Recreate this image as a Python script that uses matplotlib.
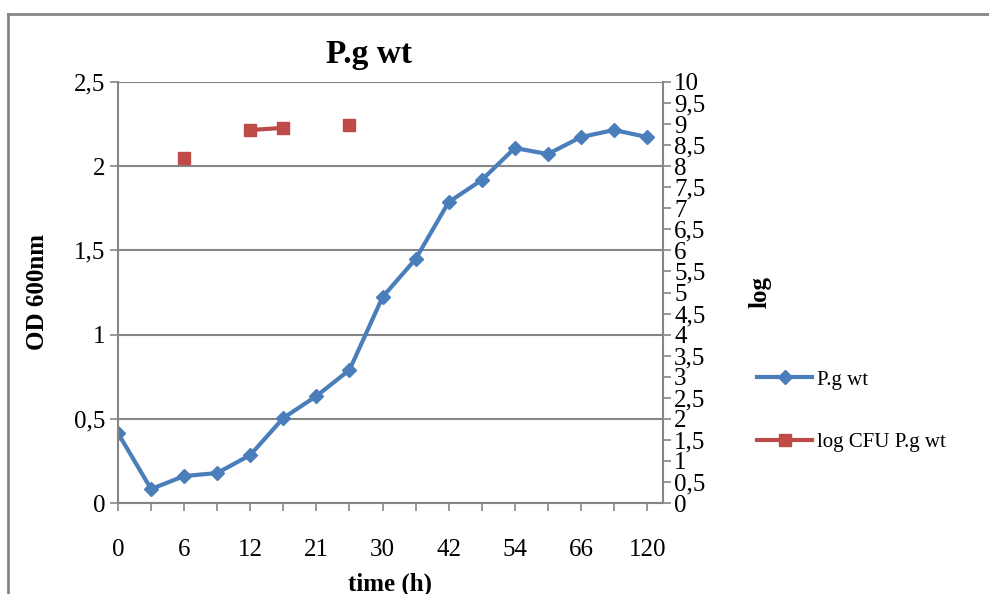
import numpy as np
import matplotlib.pyplot as plt
from matplotlib.lines import Line2D
from matplotlib.ticker import FuncFormatter, MultipleLocator

plt.rcParams['font.family'] = ['Liberation Serif', 'DejaVu Serif']

# sampling times (h) and measurements
time_h = [0, 3, 6, 9, 12, 16, 21, 26, 30, 36, 42, 48, 54, 60, 66, 96, 120]
od600 = [0.415, 0.083, 0.160, 0.178, 0.285, 0.505, 0.635, 0.790, 1.223, 1.449,
         1.787, 1.918, 2.108, 2.072, 2.173, 2.215, 2.173]
log_cfu = [np.nan, np.nan, 8.19, np.nan, 8.86, 8.91, np.nan, 8.98, np.nan, np.nan,
           np.nan, np.nan, np.nan, np.nan, np.nan, np.nan, np.nan]

blue = '#4A7EBB'
red = '#BE4B48'
grey = '#868686'

fig = plt.figure(figsize=(9.89, 5.94), dpi=100)
ax = fig.add_axes([118 / 989, 1 - 503 / 594, (663 - 118) / 989, (503 - 82) / 594])
ax2 = ax.twinx()

x = np.arange(len(time_h))
l1, = ax.plot(x, od600, color=blue, lw=3, marker='D', ms=7, mec=blue, label='P.g wt')
l2, = ax2.plot(x, log_cfu, color=red, lw=3, marker='s', ms=9, mec=red, label='log CFU P.g wt')

comma = FuncFormatter(lambda v, p: ('%g' % v).replace('.', ','))

ax.set_xlim(0, 16.48)
ax.set_ylim(0, 2.5)
ax2.set_ylim(0, 10)
ax.yaxis.set_major_locator(MultipleLocator(0.5))
ax2.yaxis.set_major_locator(MultipleLocator(0.5))
ax.yaxis.set_major_formatter(comma)
ax2.yaxis.set_major_formatter(comma)

ax.set_xticks(x)
ax.set_xticklabels([str(t) if i % 2 == 0 else '' for i, t in enumerate(time_h)])

ax.grid(axis='y', color=grey, lw=1.5)
ax.set_axisbelow(True)

for a in (ax, ax2):
    for s in a.spines.values():
        s.set_visible(False)
ax.spines['left'].set_visible(True)
ax.spines['bottom'].set_visible(True)
ax2.spines['right'].set_visible(True)
for s in (ax.spines['left'], ax.spines['bottom'], ax2.spines['right']):
    s.set_color(grey)
    s.set_linewidth(1.5)

ax.tick_params(axis='both', direction='out', length=6, width=1.2, color=grey,
               labelsize=18, pad=3)
ax.tick_params(axis='x', pad=20)
ax2.tick_params(axis='y', direction='out', length=6, width=1.2, color=grey,
                labelsize=18, pad=2)

ax.set_title('P.g wt', fontsize=24, fontweight='bold', x=0.46, pad=14)
ax.set_ylabel('OD 600nm', fontsize=18, fontweight='bold', labelpad=18)
ax2.set_ylabel('log', fontsize=18, fontweight='bold', labelpad=31)
ax.set_xlabel('time (h)', fontsize=18, fontweight='bold', labelpad=8)

fig.legend(handles=[l1, l2], loc='upper left', bbox_to_anchor=(757 / 989, 1 - 370 / 594),
           frameon=False, fontsize=15, handlelength=2.65, labelspacing=2.05,
           handletextpad=0.25, borderpad=0, borderaxespad=0)

# chart area border (top and left edges)
fig.add_artist(Line2D([8 / 989, 1.0], [1 - 14 / 594, 1 - 14 / 594], color=grey, lw=2))
fig.add_artist(Line2D([8 / 989, 8 / 989], [0, 1 - 14 / 594], color=grey, lw=2))

fig.savefig('out.png', dpi=100)
